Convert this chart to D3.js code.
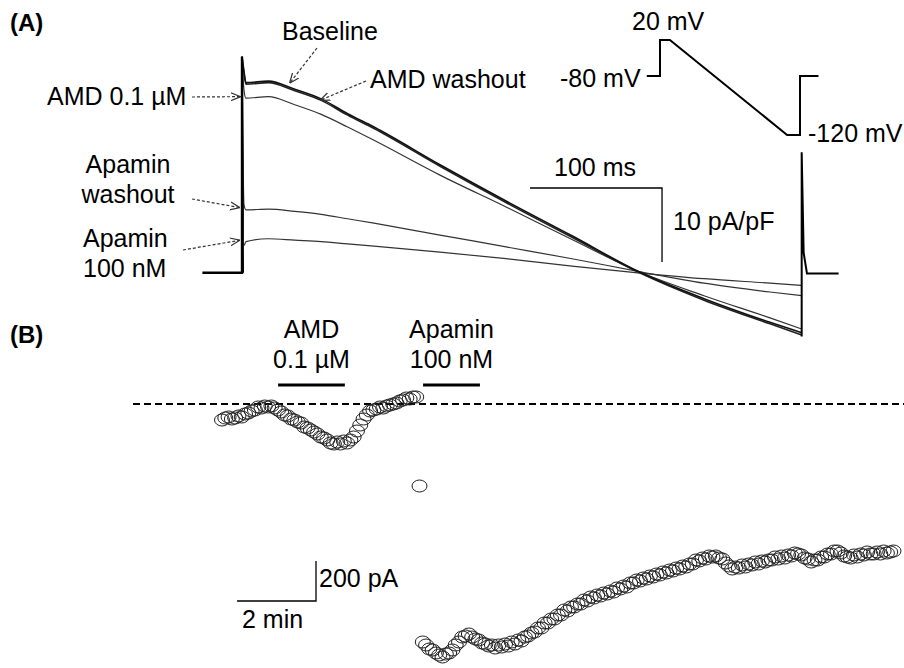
<!DOCTYPE html>
<html>
<head>
<meta charset="utf-8">
<script src="https://cdn.jsdelivr.net/npm/d3@7/dist/d3.min.js"></script>
<style>
  body { margin: 0; background: #fff; }
  text { font-family: "Liberation Sans", Arial, sans-serif; font-size: 25px; fill: #000; }
  .panel { font-weight: bold; font-size: 24px; }
</style>
</head>
<body>
<script>
// Panel A data: ramp currents (pA/pF) vs time (ms)
//= ================================
var traceTimes   = [0, 1.5, 3, 20, 40, 60, 80, 100, 150, 200, 250, 300, 350, 400, 424];
var baseline     = [29.5, 27.5, 26.0, 26.2, 25.1, 23.8, 21.8, 20.0, 14.9, 10.0, 5.3, 0.5, -3.2, -6.4, -7.8];
var amdWashout   = [29.5, 27.3, 25.8, 26.0, 24.9, 23.6, 21.6, 19.8, 14.7, 9.8, 5.1, 0.4, -3.4, -6.6, -8.1];
var amd01        = [29.5, 25.0, 23.9, 24.1, 23.0, 21.7, 20.0, 18.2, 13.5, 9.2, 4.8, 0.5, -2.8, -5.8, -7.3];
var apaWashout   = [29.5, 9.5, 8.8, 8.9, 8.6, 8.2, 7.6, 7.0, 5.4, 3.8, 2.2, 0.5, -1.1, -2.3, -2.8];
var apamin100    = [29.5, 4.0, 4.5, 4.9, 4.7, 4.5, 4.2, 3.9, 3.1, 2.2, 1.2, 0.3, -0.5, -1.1, -1.4];

// capacitive transients at start and end of the sweep
var onsetTimes   = [-30, 0, 0, 0.6];
var onsetValues  = [0.3, 0.3, 29.5, 0.3];
var tailTimes    = [424, 424, 425.5, 428, 452];
var tailValues   = [-8.3, 16.6, 3, 0.2, 0.2];

// voltage protocol (inset)
var protoTimes   = [-40, 0, 0, 30, 385, 424, 424, 480];
var protoVolts   = [-80, -80, 20, 20, -120, -120, -80, -80];

// Panel B data: current (pA) sampled every 5 s
//= ================================
var sampleMin = 5 / 60;
var beforeApamin = [-80, -70, -65, -75, -70, -60, -65, -50, -45, -35,
  -30, -15, -20, -10, -15, -10, -20, -30, -40, -55,
  -60, -75, -80, -90, -95, -115, -120, -130, -140, -150,
  -165, -170, -180, -195, -200, -190, -200, -185, -195, -180,
  -165, -135, -105, -75, -55, -35, -30, -25, -15, -20,
  -10, -5, 0, 5, 15, 20, 30, 25, 35, 35];
var apaminFirst = [-410];
var afterApamin = [-1190, -1205, -1225, -1230, -1245, -1255, -1265, -1250, -1245, -1230,
  -1205, -1190, -1165, -1160, -1150, -1165, -1175, -1180, -1195, -1200,
  -1210, -1205, -1220, -1205, -1215, -1200, -1210, -1190, -1200, -1180,
  -1185, -1165, -1160, -1145, -1140, -1120, -1120, -1095, -1095, -1075,
  -1075, -1055, -1055, -1030, -1035, -1015, -1015, -1000, -1000, -980,
  -985, -965, -970, -955, -960, -945, -950, -935, -940, -920,
  -925, -910, -915, -895, -895, -880, -885, -870, -875, -860,
  -865, -850, -855, -840, -845, -830, -835, -820, -825, -810,
  -815, -800, -800, -780, -785, -770, -775, -760, -765, -760,
  -770, -775, -795, -810, -825, -815, -820, -805, -815, -800,
  -805, -790, -800, -785, -790, -780, -780, -765, -775, -760,
  -770, -755, -760, -745, -750, -755, -770, -775, -790, -780,
  -780, -765, -765, -750, -750, -735, -735, -745, -760, -765,
  -770, -755, -765, -750, -755, -740, -750, -750, -740, -750,
  -735, -745, -740, -735];
var amdBar    = [1.42, 3.11];
var apaminBar = [5.09, 6.53];

// Step 1: SVG wrapper
//= ================================
var svgWidth = 904;
var svgHeight = 668;

var svg = d3.select("body")
  .append("svg")
  .attr("width", svgWidth)
  .attr("height", svgHeight);

svg.append("defs").append("marker")
  .attr("id", "open-arrow")
  .attr("viewBox", "0 0 10 10")
  .attr("refX", 10)
  .attr("refY", 5)
  .attr("markerUnits", "userSpaceOnUse")
  .attr("markerWidth", 10)
  .attr("markerHeight", 10)
  .attr("orient", "auto")
  .append("path")
  .attr("d", "M0,1 L10,5 L0,9")
  .attr("fill", "none")
  .attr("stroke", "#333")
  .attr("stroke-width", 1.2);

// Step 2: panel A scales
//= ================================
var xA = d3.scaleLinear().domain([0, 100]).range([242, 374]);
var yA = d3.scaleLinear().domain([0, 10]).range([275, 201]);

var lineA = d3.line()
  .x(d => xA(d[0]))
  .y(d => yA(d[1]));

var curveA = d3.line()
  .x(d => xA(d[0]))
  .y(d => yA(d[1]))
  .curve(d3.curveMonotoneX);

function zipPairs(xs, ys) {
  return xs.map((x, i) => [x, ys[i]]);
}

var gA = svg.append("g");

var traces = [
  { values: apamin100,  width: 1.2, color: "#333" },
  { values: apaWashout, width: 1.2, color: "#333" },
  { values: amd01,      width: 1.2, color: "#333" },
  { values: amdWashout, width: 1.6, color: "#222" },
  { values: baseline,   width: 1.6, color: "#111" }
];

gA.selectAll("path.trace")
  .data(traces)
  .enter()
  .append("path")
  .attr("class", "trace")
  .attr("d", d => curveA(zipPairs(traceTimes, d.values)))
  .attr("fill", "none")
  .attr("stroke", d => d.color)
  .attr("stroke-width", d => d.width)
  .attr("stroke-linejoin", "round");

gA.append("path")
  .attr("d", lineA(zipPairs(onsetTimes, onsetValues)))
  .attr("fill", "none")
  .attr("stroke", "#000")
  .attr("stroke-width", 2.4);

gA.append("path")
  .attr("d", lineA(zipPairs(tailTimes, tailValues)))
  .attr("fill", "none")
  .attr("stroke", "#000")
  .attr("stroke-width", 2);

// scale bar 100 ms / 10 pA/pF
var barA = { t0: 218.2, t1: 318.2, i0: 11.76, i1: 1.76 };
gA.append("path")
  .attr("d", lineA([[barA.t0, barA.i0], [barA.t1, barA.i0], [barA.t1, barA.i1]]))
  .attr("fill", "none")
  .attr("stroke", "#000")
  .attr("stroke-width", 1.3);
gA.append("text").attr("x", 554).attr("y", 176).text("100 ms");
gA.append("text").attr("x", 673).attr("y", 230).text("10 pA/pF");

// voltage protocol inset
var xP = d3.scaleLinear().domain([0, 424]).range([660, 800]);
var yP = d3.scaleLinear().domain([-120, -80, 20]).range([135, 76, 40]);
gA.append("path")
  .attr("d", d3.line().x(d => xP(d[0])).y(d => yP(d[1]))(zipPairs(protoTimes, protoVolts)))
  .attr("fill", "none")
  .attr("stroke", "#000")
  .attr("stroke-width", 2);
gA.append("text").attr("x", 632).attr("y", 30).text("20 mV");
gA.append("text").attr("x", 560).attr("y", 87).text("-80 mV");
gA.append("text").attr("x", 808).attr("y", 142).text("-120 mV");

// labels and dashed arrows
gA.append("text").attr("class", "panel").attr("x", 10).attr("y", 31).text("(A)");

var labels = [
  { lines: ["Baseline"], x: 282, y: 40, anchor: "start" },
  { lines: ["AMD washout"], x: 370, y: 88, anchor: "start" },
  { lines: ["AMD 0.1 \u00b5M"], x: 47, y: 105, anchor: "start" },
  { lines: ["Apamin", "washout"], x: 128, y: 173, anchor: "middle" },
  { lines: ["Apamin", "100 nM"], x: 83, y: 247, anchor: "start" }
];
labels.forEach(function(lab) {
  var t = gA.append("text")
    .attr("x", lab.x)
    .attr("y", lab.y)
    .attr("text-anchor", lab.anchor);
  lab.lines.forEach(function(s, i) {
    t.append("tspan").attr("x", lab.x).attr("dy", i === 0 ? 0 : 30).text(s);
  });
});

var arrows = [
  { tip: [36, 25.9], tail: [317, 48] },
  { tip: [59, 23.6], tail: [366, 81] },
  { tip: [-1, 24.1], tail: [192, 97] },
  { tip: [-1.5, 9.1], tail: [192, 199] },
  { tip: [-1.5, 4.7], tail: [183, 250] }
];
gA.selectAll("line.arrow")
  .data(arrows)
  .enter()
  .append("line")
  .attr("class", "arrow")
  .attr("x1", d => d.tail[0])
  .attr("y1", d => d.tail[1])
  .attr("x2", d => xA(d.tip[0]))
  .attr("y2", d => yA(d.tip[1]))
  .attr("stroke", "#333")
  .attr("stroke-width", 1.2)
  .attr("stroke-dasharray", "3,2")
  .attr("marker-end", "url(#open-arrow)");

// Step 3: panel B
//= ================================
var xB = d3.scaleLinear().domain([0, 1]).range([222, 261.5]);   // minutes
var yB = d3.scaleLinear().domain([0, -1000]).range([404, 604]); // pA

var gB = svg.append("g");

gB.append("text").attr("class", "panel").attr("x", 10).attr("y", 343).text("(B)");

gB.append("line")
  .attr("x1", 133).attr("x2", 904)
  .attr("y1", yB(0)).attr("y2", yB(0))
  .attr("stroke", "#000")
  .attr("stroke-width", 2)
  .attr("stroke-dasharray", "7,4");

var points = [];
beforeApamin.forEach((v, i) => points.push({ t: i * sampleMin, v: v }));
apaminFirst.forEach((v, i) => points.push({ t: (beforeApamin.length + i) * sampleMin, v: v }));
afterApamin.forEach((v, i) => points.push({ t: (beforeApamin.length + apaminFirst.length + i) * sampleMin, v: v }));

gB.selectAll("ellipse")
  .data(points)
  .enter()
  .append("ellipse")
  .attr("cx", d => xB(d.t))
  .attr("cy", d => yB(d.v))
  .attr("rx", 7.5)
  .attr("ry", 6)
  .attr("fill", "none")
  .attr("stroke", "#222")
  .attr("stroke-width", 1);

// drug application bars
var drugs = [
  { span: amdBar, lines: ["AMD", "0.1 \u00b5M"] },
  { span: apaminBar, lines: ["Apamin", "100 nM"] }
];
drugs.forEach(function(dg) {
  gB.append("line")
    .attr("x1", xB(dg.span[0])).attr("x2", xB(dg.span[1]))
    .attr("y1", yB(95)).attr("y2", yB(95))
    .attr("stroke", "#000")
    .attr("stroke-width", 3);
  var cx = (xB(dg.span[0]) + xB(dg.span[1])) / 2;
  dg.lines.forEach(function(s, i) {
    gB.append("text")
      .attr("x", cx)
      .attr("y", 338 + i * 30)
      .attr("text-anchor", "middle")
      .text(s);
  });
});

// scale bar 2 min / 200 pA
var barB = { t0: 0.38, t1: 2.38, v0: -985, v1: -785 };
gB.append("path")
  .attr("d", d3.line()([[xB(barB.t0), yB(barB.v0)], [xB(barB.t1), yB(barB.v0)], [xB(barB.t1), yB(barB.v1)]]))
  .attr("fill", "none")
  .attr("stroke", "#000")
  .attr("stroke-width", 1.3);
gB.append("text").attr("x", 319).attr("y", 587).text("200 pA");
gB.append("text").attr("x", 242).attr("y", 628).text("2 min");
</script>
</body>
</html>
